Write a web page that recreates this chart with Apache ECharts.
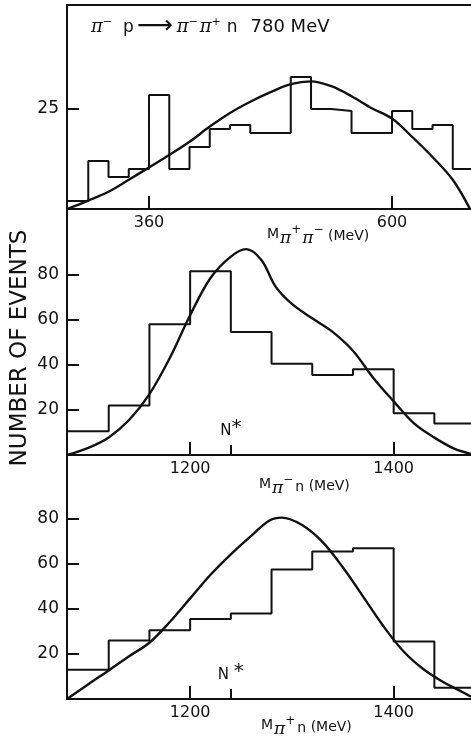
<!DOCTYPE html>
<html><head><meta charset="utf-8">
<script src="https://cdn.jsdelivr.net/npm/echarts@6/dist/echarts.min.js"></script>
<style>html,body{margin:0;padding:0;background:#fff}#c{width:471px;height:744px}</style>
</head><body><div id="c"></div>
<script>
// ---------- Panel 1: M(pi+ pi-) ----------
const p1Edges = [280,300,320,340,360,380,400,420,440,460,480,500,520,540,560,580,600,620,640,660,680];
const p1Counts = [2,12,8,10,28.5,10,15.5,20,21,19,19,33,25,24.5,19,19,24.5,20,21,10];
const p1CurveX = [279,300,320,340,360,380,400,420,440,460,480,500,520,540,560,580,600,620,640,660,677];
const p1CurveY = [0,2.1,4.3,7.3,10.4,13.5,16.8,20.6,24,26.8,29.2,31.2,31.9,30.7,28.2,25.2,22.6,18,13,7.3,0];
const p1XTicks = [360, 600];
const p1YTicks = [25];

// ---------- Panel 2: M(pi- n) ----------
const p2Edges = [1080,1120,1160,1200,1240,1280,1320,1360,1400,1440,1480];
const p2Counts = [10.5,22,58,81.5,54.5,40.5,35.5,38,18.5,14];
const p2CurveX = [1079,1100,1120,1140,1160,1180,1200,1220,1240,1255,1270,1284,1300,1320,1340,1360,1380,1400,1420,1440,1460,1476];
const p2CurveY = [0,3.2,7.8,15.5,27,43,62,78.5,88,91.3,86.5,74.7,67,60.6,54.6,46.2,34.2,23.8,14,7.7,2.7,0.5];

// ---------- Panel 3: M(pi+ n) ----------
const p3Edges = [1080,1120,1160,1200,1240,1280,1320,1360,1400,1440,1480];
const p3Counts = [13,26,30.5,35.5,38,57.5,65.5,67,25.5,5];
const p3CurveX = [1079,1100,1120,1140,1160,1180,1200,1220,1240,1260,1278,1290,1310,1330,1350,1370,1390,1410,1430,1450,1468,1476];
const p3CurveY = [0,6.6,12.7,19,25,34.2,44.7,55.2,64.3,72.5,79.3,80.6,77.3,69.8,58.5,45.5,32.3,21,13,7.2,3,1];

const nxXTicks = [1200, 1400];
const nxYTicks = [20, 40, 60, 80];
const nStarMass = 1240;

const INK = '#111';
const FONT = 'DejaVu Sans';

function stepData(edges, counts) {
  const d = counts.map((c, i) => [edges[i], c]);
  d.push([edges[edges.length - 1], counts[counts.length - 1]]);
  return d;
}
function pairs(xs, ys) { return xs.map((x, i) => [x, ys[i]]); }
const plain = v => String(v);

function xAxis(grid, min, max, ticks, extra) {
  return Object.assign({
    type: 'value', gridIndex: grid, min: min, max: max, position: 'bottom',
    axisLine: { show: true, onZero: false, lineStyle: { color: INK, width: 2 } },
    axisTick: { show: true, inside: true, length: 13, customValues: ticks, lineStyle: { color: INK, width: 2 } },
    axisLabel: { show: true, customValues: ticks, formatter: plain, color: INK, fontFamily: FONT, fontSize: 16, margin: 6 },
    splitLine: { show: false }
  }, extra || {});
}
function yAxis(grid, max, ticks) {
  return {
    type: 'value', gridIndex: grid, min: 0, max: max,
    axisLine: { show: true, onZero: false, lineStyle: { color: INK, width: 2 } },
    axisTick: { show: true, inside: true, length: 12, customValues: ticks, lineStyle: { color: INK, width: 2 } },
    axisLabel: { show: true, customValues: ticks, formatter: plain, color: INK, fontFamily: FONT, fontSize: 17, margin: 8 },
    splitLine: { show: false }
  };
}
function hist(xi, yi, edges, counts) {
  return { type: 'line', xAxisIndex: xi, yAxisIndex: yi, step: 'end', data: stepData(edges, counts),
    showSymbol: false, silent: true, lineStyle: { color: INK, width: 2 }, itemStyle: { color: INK } };
}
function curve(xi, yi, xs, ys, mark) {
  const s = { type: 'line', xAxisIndex: xi, yAxisIndex: yi, data: pairs(xs, ys), smooth: 0.35,
    showSymbol: false, silent: true, lineStyle: { color: INK, width: 2.4 }, itemStyle: { color: INK } };
  if (mark) s.markLine = mark;
  return s;
}
function nStarMark(fmt) {
  return {
    symbol: 'none', silent: true, animation: false,
    lineStyle: { type: 'solid', color: INK, width: 2 },
    label: { show: true, position: 'end', distance: 1, formatter: fmt, color: INK, fontFamily: FONT, fontSize: 15,
      rich: { s: { fontSize: 20, fontFamily: FONT, color: INK, padding: [0, 0, 6, 0] } } },
    data: [[{ coord: [nStarMass, 0] }, { coord: [nStarMass, 4.4] }]]
  };
}

const piRich = {
  m: { fontSize: 14, fontFamily: FONT, color: INK },
  pi: { fontSize: 17, fontFamily: 'DejaVu Serif', fontStyle: 'italic', color: INK, padding: [8, 0, 0, 1] },
  sup: { fontSize: 12, fontFamily: FONT, color: INK, padding: [0, 0, 9, 0] },
  u: { fontSize: 14, fontFamily: FONT, color: INK, padding: [3, 0, 0, 0] },
  n: { fontSize: 14, fontFamily: FONT, color: INK, padding: [5, 0, 0, 2] }
};
const titleRich = {
  pi: { fontSize: 18, fontFamily: 'DejaVu Serif', fontStyle: 'italic', color: INK },
  pi2: { fontSize: 18, fontFamily: 'DejaVu Serif', fontStyle: 'italic', color: INK, padding: [0, 0, 0, 2] },
  sup: { fontSize: 11, fontFamily: FONT, color: INK, padding: [0, 0, 10, 0] },
  p: { fontSize: 17, fontFamily: FONT, color: INK, padding: [0, 0, 0, 11] },
  n: { fontSize: 17, fontFamily: FONT, color: INK, padding: [0, 0, 0, 6] },
  e: { fontSize: 18, fontFamily: FONT, color: INK, padding: [0, 0, 0, 13] },
  ar: { fontSize: 25, fontFamily: FONT, color: INK, padding: [0, 4, 2, 3] }
};

const chart = echarts.init(document.getElementById('c'), null, { renderer: 'canvas' });
chart.setOption({
  animation: false,
  backgroundColor: '#fff',
  grid: [
    { left: 67, top: 5, width: 404, height: 204 },
    { left: 67, top: 209, width: 404, height: 246 },
    { left: 67, top: 455, width: 404, height: 244 }
  ],
  xAxis: [
    xAxis(0, 279, 678, p1XTicks),
    xAxis(0, 279, 678, [], { position: 'top', axisTick: { show: false }, axisLabel: { show: false } }),
    xAxis(1, 1079, 1476, nxXTicks),
    xAxis(2, 1079, 1476, nxXTicks)
  ],
  yAxis: [
    yAxis(0, 51, p1YTicks),
    yAxis(1, 109.1, nxYTicks),
    yAxis(2, 108.4, nxYTicks)
  ],
  series: [
    hist(0, 0, p1Edges, p1Counts),
    curve(0, 0, p1CurveX, p1CurveY),
    hist(2, 1, p2Edges, p2Counts),
    curve(2, 1, p2CurveX, p2CurveY, nStarMark('N{s|*}')),
    hist(3, 2, p3Edges, p3Counts),
    curve(3, 2, p3CurveX, p3CurveY, nStarMark('N {s|*}'))
  ],
  graphic: [
    { type: 'text', left: 91, top: 14, silent: true,
      style: { text: '{pi|π}{sup|−}{p|p}{ar|⟶}{pi|π}{sup|−}{pi2|π}{sup|+}{n|n}{e|780 MeV}', rich: titleRich, fill: INK } },
    { type: 'text', x: 20, y: 348, rotation: Math.PI / 2, silent: true,
      style: { text: 'NUMBER OF EVENTS', fontFamily: FONT, fontSize: 23, fill: INK, align: 'center', verticalAlign: 'middle' } },
    { type: 'text', left: 267, top: 224, silent: true,
      style: { text: '{m|M}{pi|π}{sup|+}{pi|π}{sup|−}{u| (MeV)}', rich: piRich, fill: INK } },
    { type: 'text', left: 259, top: 474, silent: true,
      style: { text: '{m|M}{pi|π}{sup|−}{n|n}{u| (MeV)}', rich: piRich, fill: INK } },
    { type: 'text', left: 261, top: 715, silent: true,
      style: { text: '{m|M}{pi|π}{sup|+}{n|n}{u| (MeV)}', rich: piRich, fill: INK } }
  ]
});
</script></body></html>
